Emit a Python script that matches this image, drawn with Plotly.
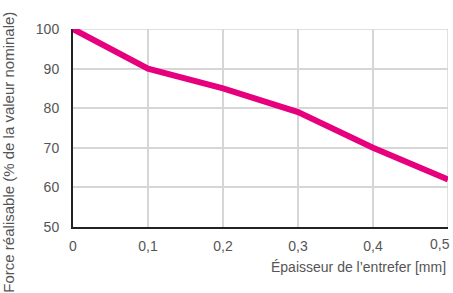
import plotly.graph_objects as go

x_vals = [0, 0.1, 0.2, 0.3, 0.4, 0.5]
force = [100, 90, 85, 79, 70, 62]
x_ticks = [0, 0.1, 0.2, 0.3, 0.4, 0.5]
x_tick_labels = ["0", "0,1", "0,2", "0,3", "0,4", "0,5"]
y_ticks = [50, 60, 70, 80, 90, 100]

FONT = "Liberation Sans, Arial, sans-serif"
GREY = "#555555"
GRID = "#d6d6d6"

fig = go.Figure()
fig.add_trace(go.Scatter(x=x_vals, y=force, mode="lines",
                         line=dict(color="#e6007e", width=6), cliponaxis=False,
                         hoverinfo="skip"))

fig.update_layout(
    width=453, height=293,
    margin=dict(l=73, r=5, t=29, b=66, autoexpand=False),
    paper_bgcolor="white", plot_bgcolor="white",
    showlegend=False, font=dict(family=FONT, size=14, color=GREY),
    xaxis=dict(range=[0, 0.5], tickvals=x_ticks[:-1], ticktext=x_tick_labels[:-1],
               showgrid=True, gridcolor=GRID, gridwidth=1.5,
               showline=True, linecolor="#222222", linewidth=2,
               zeroline=False, ticks="outside", ticklen=5, tickcolor="rgba(0,0,0,0)"),
    yaxis=dict(range=[50, 100], tickvals=y_ticks,
               showgrid=True, gridcolor=GRID, gridwidth=1.5,
               showline=True, linecolor="#222222", linewidth=2,
               zeroline=False, ticks="outside", ticklen=9, tickcolor="rgba(0,0,0,0)"),
)
# last x tick label, right-aligned at its tick so it stays inside the figure
fig.add_annotation(text=x_tick_labels[-1], xref="x", yref="paper",
                   x=x_ticks[-1], y=0, yshift=-7, xanchor="right", yanchor="top",
                   xshift=4, showarrow=False, font=dict(family=FONT, size=14, color=GREY))
fig.add_shape(type="line", xref="x", yref="paper", x0=x_ticks[-1], x1=x_ticks[-1], y0=0, y1=1,
              line=dict(color=GRID, width=1.5), layer="below")
fig.add_shape(type="line", xref="paper", yref="y", x0=0, x1=1, y0=y_ticks[-1], y1=y_ticks[-1],
              line=dict(color=GRID, width=1.5), layer="below")
fig.add_annotation(text="Épaisseur de l’entrefer [mm]", xref="paper", yref="paper",
                   x=1.0, y=-0.2, xanchor="right", yanchor="middle", showarrow=False,
                   font=dict(family=FONT, size=14, color=GREY))
fig.add_annotation(text="Force réalisable (% de la valeur nominale)", xref="paper", yref="paper",
                   x=-0.171, y=0.38, xanchor="center", yanchor="middle", textangle=-90,
                   showarrow=False,
                   font=dict(family=FONT, size=15, color=GREY))
fig.write_html("out.html", config={"displayModeBar": False},
               post_script="document.body.style.margin='0';")
